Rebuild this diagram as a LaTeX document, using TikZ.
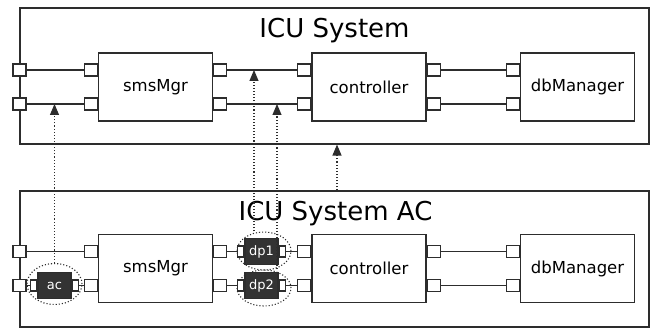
\documentclass[tikz,border=0pt]{standalone}
\usepackage{fontspec}
\setmainfont{DejaVu Sans}
\usepackage{tikz}
\usetikzlibrary{arrows.meta, shapes, positioning}
\usepackage{xcolor}
\definecolor{partgray}{RGB}{51, 51, 51}
\definecolor{linegray}{RGB}{45, 45, 45}

\begin{document}
\begin{tikzpicture}[
    x=1pt, y=-1pt, line width=1.1pt, draw=linegray,
    system/.style={rectangle, draw=linegray, minimum width=629pt, minimum height=136pt, inner sep=0pt},
    title/.style={anchor=base, font=\fontsize{26}{30}\selectfont},
    block/.style={rectangle, draw=linegray, fill=white, minimum width=114pt, minimum height=68pt, inner sep=0pt, font=\fontsize{16.5}{20}\selectfont},
    port/.style={rectangle, draw=linegray, fill=white, minimum width=13pt, minimum height=12pt, inner sep=0pt},
    part/.style={rectangle, draw=linegray, fill=partgray, text=white, minimum width=33pt, minimum height=26pt, inner sep=0pt, font=\fontsize{13}{15}\selectfont},
    pin/.style={rectangle, draw=linegray, fill=white, minimum width=6pt, minimum height=11pt, inner sep=0pt},
    group/.style={ellipse, draw=linegray, dotted, inner sep=0pt},
    link/.style={dotted, -{Triangle[width=9pt, length=11pt]}}
]
    \useasboundingbox (0,0) rectangle (654,334);

    % ICU System
    \node[system] (sys) at (334.5,76) {};
    \node[title] (systitle) at (334.5,38) {ICU System};
    \node[block] (mgr) at (155.5,87) {smsMgr};
    \node[block] (ctl) at (369,87) {controller};
    \node[block] (db) at (577.5,87) {dbManager};

    \node[port, anchor=east] (mgrl1) at ([yshift=17pt]mgr.west) {};
    \node[port, anchor=east] (mgrl2) at ([yshift=-17pt]mgr.west) {};
    \node[port, anchor=west] (mgrr1) at ([yshift=17pt]mgr.east) {};
    \node[port, anchor=west] (mgrr2) at ([yshift=-17pt]mgr.east) {};
    \node[port, anchor=east] (ctll1) at ([yshift=17pt]ctl.west) {};
    \node[port, anchor=east] (ctll2) at ([yshift=-17pt]ctl.west) {};
    \node[port, anchor=west] (ctlr1) at ([yshift=17pt]ctl.east) {};
    \node[port, anchor=west] (ctlr2) at ([yshift=-17pt]ctl.east) {};
    \node[port, anchor=east] (dbl1) at ([yshift=17pt]db.west) {};
    \node[port, anchor=east] (dbl2) at ([yshift=-17pt]db.west) {};
    \node[port] (sysp1) at (sys.west |- mgrl1) {};
    \node[port] (sysp2) at (sys.west |- mgrl2) {};

    \draw (sysp1) -- (mgrl1);
    \draw (sysp2) -- (mgrl2);
    \draw (mgrr1) -- (ctll1);
    \draw (mgrr2) -- (ctll2);
    \draw (ctlr1) -- (dbl1);
    \draw (ctlr2) -- (dbl2);

    % ICU System AC
    \node[system] (sysac) at (334.5,259) {};
    \node[title] (sysactitle) at (335.5,221) {ICU System AC};
    \node[block] (mgrac) at (155.5,268.5) {smsMgr};
    \node[block] (ctlac) at (369,268.5) {controller};
    \node[block] (dbac) at (577.5,268.5) {dbManager};

    \node[port, anchor=east] (mgracl1) at ([yshift=17pt]mgrac.west) {};
    \node[port, anchor=east] (mgracl2) at ([yshift=-17pt]mgrac.west) {};
    \node[port, anchor=west] (mgracr1) at ([yshift=17pt]mgrac.east) {};
    \node[port, anchor=west] (mgracr2) at ([yshift=-17pt]mgrac.east) {};
    \node[port, anchor=east] (ctlacl1) at ([yshift=17pt]ctlac.west) {};
    \node[port, anchor=east] (ctlacl2) at ([yshift=-17pt]ctlac.west) {};
    \node[port, anchor=west] (ctlacr1) at ([yshift=17pt]ctlac.east) {};
    \node[port, anchor=west] (ctlacr2) at ([yshift=-17pt]ctlac.east) {};
    \node[port, anchor=east] (dbacl1) at ([yshift=17pt]dbac.west) {};
    \node[port, anchor=east] (dbacl2) at ([yshift=-17pt]dbac.west) {};
    \node[port] (sysacp1) at (sysac.west |- mgracl1) {};
    \node[port] (sysacp2) at (sysac.west |- mgracl2) {};

    % parts with their groups
    \node[group, minimum width=55pt, minimum height=41pt] (acgrp) at (54.5,284) {};
    \node[group, minimum width=54pt, minimum height=38pt] (dp1grp) at (264,251) {};
    \node[group, minimum width=54pt, minimum height=36pt] (dp2grp) at (264,288) {};
    \node[part] (ac) at (54.5,285.5) {ac};
    \node[part] (dp1) at (261.5,251.5) {dp1};
    \node[part] (dp2) at (261.5,285.5) {dp2};
    \node[pin, anchor=east] (acl) at (ac.west) {};
    \node[pin, anchor=west] (acr) at (ac.east) {};
    \node[pin, anchor=east] (dp1l) at (dp1.west) {};
    \node[pin, anchor=west] (dp1r) at (dp1.east) {};
    \node[pin, anchor=east] (dp2l) at (dp2.west) {};
    \node[pin, anchor=west] (dp2r) at (dp2.east) {};

    \draw (sysacp1) -- (mgracl1);
    \draw (sysacp2) -- (acl);
    \draw (acr) -- (mgracl2);
    \draw (mgracr1) -- (dp1l);
    \draw (dp1r) -- (ctlacl1);
    \draw (mgracr2) -- (dp2l);
    \draw (dp2r) -- (ctlacl2);
    \draw (ctlacr1) -- (dbacl1);
    \draw (ctlacr2) -- (dbacl2);

    % realisation links
    \draw[link] (acgrp.north) -- (acgrp.north |- mgrl2);
    \draw[link] ([xshift=-10pt]dp1grp.north) -- ([xshift=-10pt]dp1grp.north |- mgrr1);
    \draw[link] ([xshift=13pt]dp2grp.north) -- ([xshift=13pt]dp2grp.north |- mgrr2);
    \draw[link] ([xshift=2.5pt]sysac.north) -- ([xshift=2.5pt]sys.south);
\end{tikzpicture}
\end{document}
